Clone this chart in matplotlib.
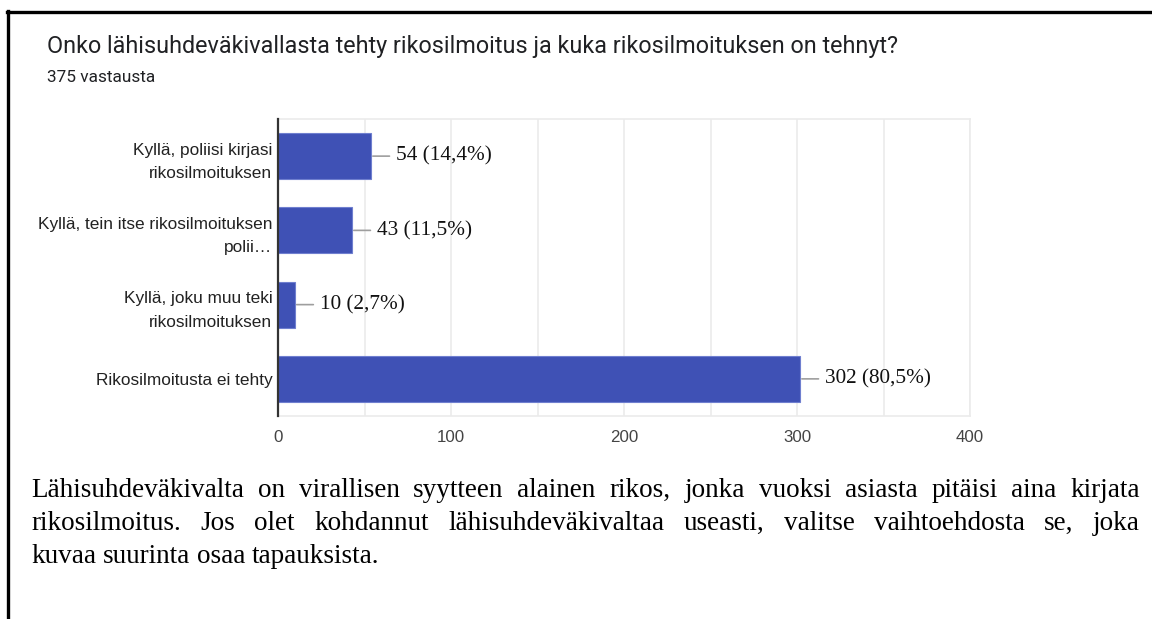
import matplotlib
matplotlib.use("Agg")
import matplotlib.pyplot as plt
from matplotlib.lines import Line2D
from matplotlib.ticker import MultipleLocator

categories = ["Kyllä, poliisi kirjasi\nrikosilmoituksen",
              "Kyllä, tein itse rikosilmoituksen\npolii…",
              "Kyllä, joku muu teki\nrikosilmoituksen",
              "Rikosilmoitusta ei tehty"]
values = [54, 43, 10, 302]
percents = ["14,4%", "11,5%", "2,7%", "80,5%"]
xticks = [0, 100, 200, 300, 400]
title = "Onko lähisuhdeväkivallasta tehty rikosilmoitus ja kuka rikosilmoituksen on tehnyt?"
subtitle = "375 vastausta"
para_lines = [
    "Lähisuhdeväkivalta on virallisen syytteen alainen rikos, jonka vuoksi asiasta pitäisi aina kirjata",
    "rikosilmoitus. Jos olet kohdannut lähisuhdeväkivaltaa useasti, valitse vaihtoehdosta se, joka",
    "kuvaa suurinta osaa tapauksista.",
]

W, H = 1152, 619
fig = plt.figure(figsize=(W / 100, H / 100), dpi=100)
fig.patch.set_facecolor("white")

ax = fig.add_axes([278 / W, 1 - 416 / H, (970 - 278) / W, (416 - 119) / H])
ypos = list(range(len(values)))
ax.barh(ypos, values, height=0.62, color="#3f51b5", edgecolor="#6f7fcf", linewidth=0.8, zorder=3)
ax.set_ylim(len(values) - 0.5, -0.5)
ax.set_xlim(0, 400)
ax.set_xticks(xticks)
ax.xaxis.set_minor_locator(MultipleLocator(50))
ax.set_yticks(ypos)
ax.set_yticklabels(categories, fontsize=12.4, family="Liberation Sans", color="#222222",
                   linespacing=1.7)
ax.set_xticklabels([str(t) for t in xticks], fontsize=12.2, family="Liberation Sans", color="#444444")
ax.tick_params(axis="both", which="both", length=0)
ax.tick_params(axis="y", pad=4)
ax.tick_params(axis="x", pad=10)
ax.grid(True, axis="x", which="both", color="#ebebeb", linewidth=1.2, zorder=0)
for s in ["top", "right", "bottom"]:
    ax.spines[s].set_color("#ebebeb")
    ax.spines[s].set_linewidth(1.2)
ax.spines["left"].set_color("#333333")
ax.spines["left"].set_linewidth(1.6)
ax.spines["left"].set_zorder(4)

for y, v, p in zip(ypos, values, percents):
    ax.annotate(f"{v} ({p})", xy=(v, y), xytext=(18, 0), textcoords="offset points",
                ha="left", va="center", fontsize=15.3, family="Liberation Serif", color="#111111",
                arrowprops=dict(arrowstyle="-", color="#9e9e9e", lw=1.2, shrinkA=3, shrinkB=1))

fig.text(47 / W, 1 - 47 / H, title, fontsize=16.8, family="Roboto", color="#202124",
         ha="left", va="center")
fig.text(47 / W, 1 - 78 / H, subtitle, fontsize=12.4, family="Roboto", color="#202124",
         ha="left", va="center")

# border lines
fig.add_artist(Line2D([7 / W, 1], [1 - 12 / H, 1 - 12 / H], color="black", lw=2.4, transform=fig.transFigure))
fig.add_artist(Line2D([8 / W, 8 / W], [1 - 11 / H, 0], color="black", lw=2.4, transform=fig.transFigure))

# justified paragraph
renderer = fig.canvas.get_renderer()
left_px, right_px = 31, 1140
baselines = [497, 530, 563]
pfs = 19.5
for i, (line, base) in enumerate(zip(para_lines, baselines)):
    words = line.split(" ")
    texts = [fig.text(0, 1 - base / H, w, fontsize=pfs, family="Liberation Serif", color="black",
                      ha="left", va="baseline") for w in words]
    widths = [t.get_window_extent(renderer).width for t in texts]
    if i < len(para_lines) - 1:
        gap = (right_px - left_px - sum(widths)) / (len(words) - 1)
    else:
        sp = fig.text(0, 0, "a a", fontsize=pfs, family="Liberation Serif")
        sp2 = fig.text(0, 0, "aa", fontsize=pfs, family="Liberation Serif")
        gap = sp.get_window_extent(renderer).width - sp2.get_window_extent(renderer).width
        sp.remove(); sp2.remove()
    x = left_px
    for t, w in zip(texts, widths):
        t.set_x(x / W)
        x += w + gap

fig.savefig("out.png", dpi=100)
